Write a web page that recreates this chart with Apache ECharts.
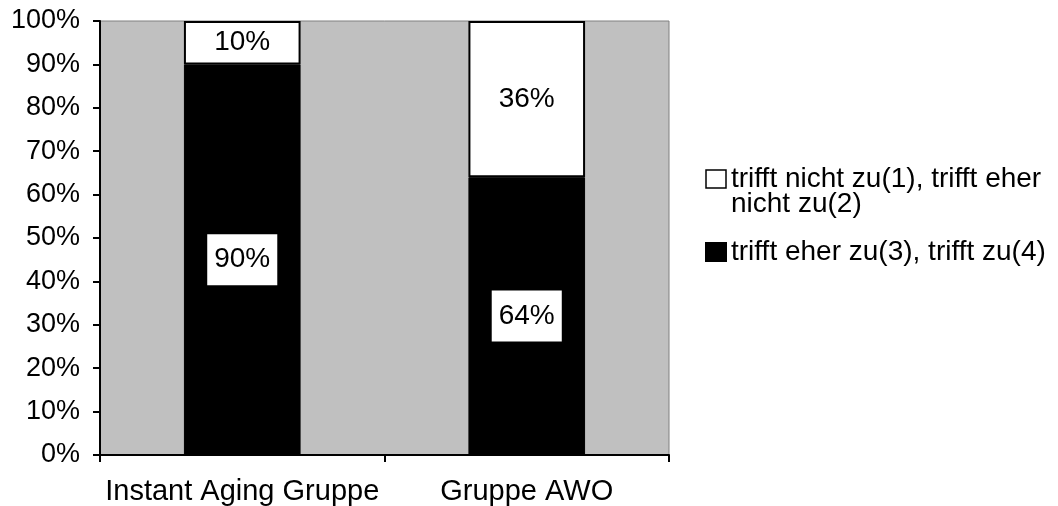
<!DOCTYPE html>
<html>
<head>
<meta charset="utf-8">
<script src="https://cdn.jsdelivr.net/npm/echarts@6/dist/echarts.min.js"></script>
<style>
  html, body { margin: 0; padding: 0; background: #fff; }
  #chart { width: 1058px; height: 506px; }
</style>
</head>
<body>
<div id="chart"></div>
<script>
const categories = ['Instant Aging Gruppe', 'Gruppe AWO'];
const agreeValues = [90, 64];      // trifft eher zu(3), trifft zu(4)
const disagreeValues = [10, 36];   // trifft nicht zu(1), trifft eher nicht zu(2)
const yTicks = [0, 10, 20, 30, 40, 50, 60, 70, 80, 90, 100];
const legendNames = ['trifft nicht zu(1), trifft eher\nnicht zu(2)', 'trifft eher zu(3), trifft zu(4)'];

const FONT = '"Liberation Sans", Arial, sans-serif';

const chart = echarts.init(document.getElementById('chart'), null, { renderer: 'canvas' });

const option = {
  animation: false,
  backgroundColor: '#fff',
  grid: {
    left: 100,
    top: 21,
    width: 569,
    height: 435,
    show: true,
    backgroundColor: '#C0C0C0',
    borderColor: '#808080',
    borderWidth: 1
  },
  legend: {
    orient: 'vertical',
    left: 700,
    top: 135,
    itemWidth: 20,
    itemHeight: 18,
    itemGap: 20,
    icon: 'rect',
    data: [
      { name: legendNames[0], itemStyle: { color: '#fff', borderColor: '#000', borderWidth: 1.5 } },
      { name: legendNames[1], itemStyle: { color: '#000' } }
    ],
    // empty first line so the icon lines up with the first text line
    formatter: name => (name.indexOf('\n') >= 0 ? '\n' + name : name),
    textStyle: { color: '#000', fontFamily: FONT, fontSize: 28, lineHeight: 25 }
  },
  xAxis: {
    type: 'category',
    data: categories,
    axisLine: { lineStyle: { color: '#000', width: 2 } },
    axisTick: { show: true, interval: 0, length: 7, lineStyle: { color: '#000', width: 2 } },
    axisLabel: { interval: 0, color: '#000', fontFamily: FONT, fontSize: 29, margin: 22 }
  },
  yAxis: {
    type: 'value',
    min: yTicks[0],
    max: yTicks[yTicks.length - 1],
    interval: 10,
    splitLine: { show: false },
    axisLine: { show: true, lineStyle: { color: '#000', width: 2 } },
    axisTick: { show: true, length: 7, lineStyle: { color: '#000', width: 2 } },
    axisLabel: { color: '#000', fontFamily: FONT, fontSize: 27, margin: 20, formatter: v => v + '%' }
  },
  series: [
    {
      name: legendNames[1],
      type: 'bar',
      stack: 'total',
      barWidth: '41%',
      data: agreeValues,
      itemStyle: { color: '#000', borderColor: '#000', borderWidth: 1 },
      label: {
        show: true,
        position: 'inside',
        formatter: p => p.value + '%',
        color: '#000',
        fontFamily: FONT,
        fontSize: 28,
        lineHeight: 28,
        backgroundColor: '#fff',
        padding: [12, 7, 11, 7]
      }
    },
    {
      name: legendNames[0],
      type: 'bar',
      stack: 'total',
      barWidth: '41%',
      data: disagreeValues,
      itemStyle: { color: '#fff', borderColor: '#000', borderWidth: 2 },
      label: {
        show: true,
        position: 'inside',
        formatter: p => p.value + '%',
        color: '#000',
        fontFamily: FONT,
        fontSize: 28
      }
    }
  ]
};

chart.setOption(option);
</script>
</body>
</html>
